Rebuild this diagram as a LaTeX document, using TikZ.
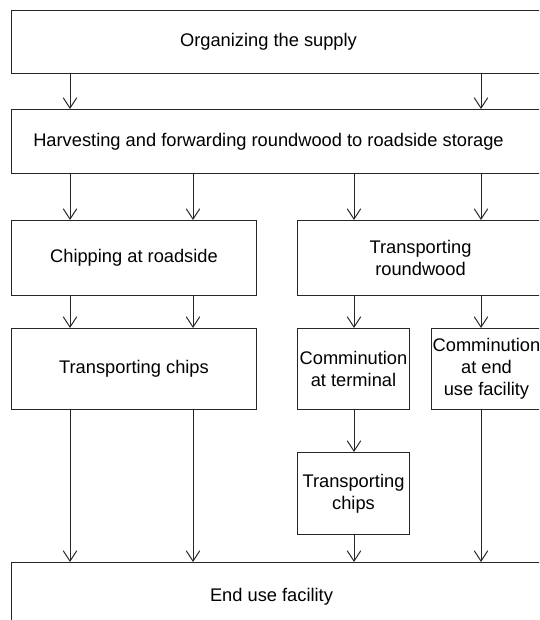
\documentclass[tikz,border=0pt]{standalone}
\usepackage{fontspec}
\setmainfont{Liberation Sans}
\usetikzlibrary{arrows.meta}

\begin{document}
\begin{tikzpicture}[>={Straight Barb[length=2.6mm, width=3.4mm]}, scale=1.0,
  box/.style={draw=black!85, line width=0.7pt, anchor=north west, inner sep=0pt,
    align=center, font=\fontsize{13}{15.5}\selectfont},
  txt/.style={align=center, font=\fontsize{13}{15.5}\selectfont},
  flow/.style={->, draw=black!85, line width=0.7pt}]
  \useasboundingbox (0,0) rectangle (13.475,-15.5);
  \clip (0,0) rectangle (13.475,-15.5);
  % columns of the connectors
  \coordinate (c1) at (1.75,0);
  \coordinate (c2) at (4.825,0);
  \coordinate (c3) at (8.85,0);
  \coordinate (c4) at (12.025,0);

  % wide boxes, cut at the right edge
  \node[box, minimum width=13.3cm, minimum height=1.575cm] (org) at (0.275,-0.25) {};
  \node[txt, xshift=-0.225cm] (orgtext) at (org.center) {Organizing the supply};
  \node[box, minimum width=13.3cm, minimum height=1.6cm] (harv) at (0.275,-2.725) {};
  \node[txt, xshift=-0.225cm] (harvtext) at (harv.center)
    {Harvesting and forwarding roundwood to roadside storage};

  % two ways from the roadside
  \node[box, minimum width=6.125cm, minimum height=1.875cm] (chip) at (0.275,-5.5) {Chipping at roadside};
  \node[box, minimum width=6.15cm, minimum height=1.875cm] (trw) at (7.425,-5.5) {Transporting\\roundwood};
  \node[box, minimum width=6.125cm, minimum height=2.025cm] (tchips) at (0.275,-8.2) {Transporting chips};
  \node[box, minimum width=2.8cm, minimum height=2.025cm] (cterm) at (7.425,-8.2) {Comminution\\at terminal};
  \node[box, minimum width=2.75cm, minimum height=2.025cm] (cend) at (10.775,-8.2) {Comminution\\at end\\use facility};
  \node[box, minimum width=2.8cm, minimum height=2.05cm] (tchipsb) at (7.425,-11.3) {Transporting\\chips};

  \node[box, minimum width=13.3cm, minimum height=2cm] (enduse) at (0.275,-14.05) {};
  \node[txt, xshift=-0.15cm, yshift=0.15cm] (endtext) at (enduse.center) {End use facility};

  % connectors
  \draw[flow] (org.south -| c1) -- (harv.north -| c1);
  \draw[flow] (org.south -| c4) -- (harv.north -| c4);
  \draw[flow] (harv.south -| c1) -- (chip.north -| c1);
  \draw[flow] (harv.south -| c2) -- (chip.north -| c2);
  \draw[flow] (harv.south -| c3) -- (trw.north -| c3);
  \draw[flow] (harv.south -| c4) -- (trw.north -| c4);
  \draw[flow] (chip.south -| c1) -- (tchips.north -| c1);
  \draw[flow] (chip.south -| c2) -- (tchips.north -| c2);
  \draw[flow] (trw.south -| c3) -- (cterm.north -| c3);
  \draw[flow] (trw.south -| c4) -- (cend.north -| c4);
  \draw[flow] (cterm.south -| c3) -- (tchipsb.north -| c3);
  \draw[flow] (tchips.south -| c1) -- (enduse.north -| c1);
  \draw[flow] (tchips.south -| c2) -- (enduse.north -| c2);
  \draw[flow] (tchipsb.south -| c3) -- (enduse.north -| c3);
  \draw[flow] (cend.south -| c4) -- (enduse.north -| c4);
\end{tikzpicture}
\end{document}
